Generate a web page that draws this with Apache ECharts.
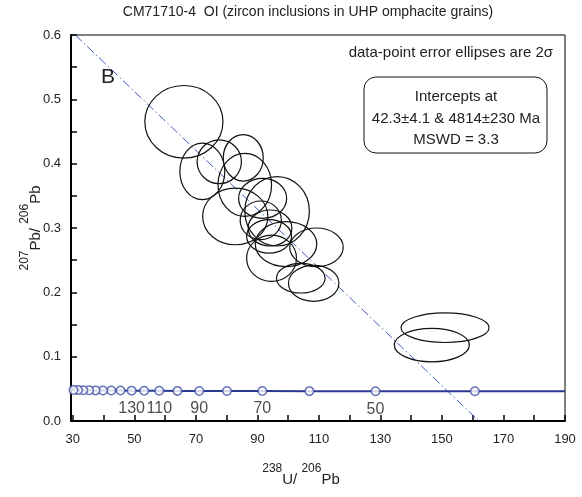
<!DOCTYPE html>
<html>
<head>
<meta charset="utf-8">
<script src="https://cdn.jsdelivr.net/npm/echarts@6/dist/echarts.min.js"></script>
<style>
  html, body { margin: 0; padding: 0; background: #fff; }
  #chart { width: 582px; height: 497px; }
</style>
</head>
<body>
<div id="chart"></div>
<script>
// Tera-Wasserburg plot: 238U/206Pb vs 207Pb/206Pb

// Error ellipses (centre and 2-sigma semi-axes in data units)
const ellX  = [66.1, 72.1, 77.6, 85.4, 85.9, 82.8, 91.7, 96.4, 91.1, 94.1, 93.8, 99.3, 94.6, 109.2, 104.1, 108.3, 151.0, 146.7];
const ellY  = [0.465, 0.388, 0.403, 0.409, 0.367, 0.318, 0.346, 0.326, 0.312, 0.300, 0.287, 0.275, 0.253, 0.270, 0.222, 0.214, 0.145, 0.118];
const ellRx = [12.7, 7.3, 7.2, 6.5, 8.7, 10.6, 7.8, 10.5, 6.7, 7.1, 7.3, 10.0, 8.1, 8.7, 7.9, 8.2, 14.3, 12.2];
const ellRy = [0.0565, 0.044, 0.034, 0.036, 0.049, 0.044, 0.031, 0.054, 0.030, 0.028, 0.026, 0.035, 0.036, 0.030, 0.023, 0.028, 0.023, 0.026];

// Concordia age markers (Ma) with their coordinates
const concAge = [40, 50, 60, 70, 80, 90, 100, 110, 120, 130, 140, 150, 160, 170, 180, 190, 200, 210];
const concX   = [160.7, 128.4, 106.9, 91.6, 80.1, 71.1, 64.0, 58.1, 53.2, 49.1, 45.5, 42.5, 39.8, 37.4, 35.3, 33.4, 31.7, 30.2];
const concY   = [0.0462, 0.0463, 0.0464, 0.0465, 0.0466, 0.0467, 0.0468, 0.0469, 0.0470, 0.0472, 0.0473, 0.0474, 0.0475, 0.0476, 0.0478, 0.0479, 0.0480, 0.0481];
const concLabelled = [50, 70, 90, 110, 130];

// Concordia curve trace (extends past the last markers to the frame)
const curveX = [28.8, 30.2, 31.7, 33.4, 35.3, 37.4, 39.8, 42.5, 45.5, 49.1, 53.2, 58.1, 64.0, 71.1, 80.1, 91.6, 106.9, 128.4, 160.7, 190];
const curveY = [0.0482, 0.0481, 0.0480, 0.0479, 0.0478, 0.0476, 0.0475, 0.0474, 0.0473, 0.0472, 0.0470, 0.0469, 0.0468, 0.0467, 0.0466, 0.0465, 0.0464, 0.0463, 0.0462, 0.0461];

// Discordia regression line end points
const discX = [30.8, 162.0];
const discY = [0.6, 0.0];

// Axis ticks
const xTickVals  = [30, 40, 50, 60, 70, 80, 90, 100, 110, 120, 130, 140, 150, 160, 170, 180, 190];
const xLabelVals = [30, 50, 70, 90, 110, 130, 150, 170, 190];
const yTickVals  = [0, 0.05, 0.1, 0.15, 0.2, 0.25, 0.3, 0.35, 0.4, 0.45, 0.5, 0.55, 0.6];

const FONT = '"Liberation Sans", Arial, sans-serif';
const INK = '#222';

const chart = echarts.init(document.getElementById('chart'), null, { renderer: 'canvas' });

const ellipseData = ellX.map((x, i) => [x, ellY[i], ellRx[i], ellRy[i]]);
const concData = concX.map((x, i) => ({
  value: [x, concY[i]],
  label: { show: concLabelled.indexOf(concAge[i]) >= 0, formatter: String(concAge[i]) }
}));

const supRich = {
  s: { fontSize: 12, lineHeight: 24, verticalAlign: 'top', fontFamily: FONT, color: INK },
  b: { fontSize: 15, lineHeight: 24, verticalAlign: 'bottom', fontFamily: FONT, color: INK }
};

chart.setOption({
  animation: false,
  backgroundColor: '#fff',
  textStyle: { fontFamily: FONT },
  grid: {
    left: 71, right: 17, top: 35, bottom: 76,
    show: true, borderColor: '#000', borderWidth: 1, backgroundColor: 'transparent'
  },
  xAxis: {
    type: 'value',
    min: 29.4, max: 190,
    splitLine: { show: false },
    axisLine: { onZero: false, lineStyle: { color: '#000', width: 2 } },
    axisTick: { inside: true, length: 6, lineStyle: { color: '#000', width: 1.5 }, customValues: xTickVals },
    axisLabel: { customValues: xLabelVals, color: INK, fontSize: 13, margin: 12, fontFamily: FONT },
    name: '{s|238}{b|U/ }{s|206}{b|Pb}',
    nameLocation: 'middle',
    nameGap: 42,
    nameMoveOverlap: false,
    nameTextStyle: { fontFamily: FONT, color: INK, padding: [0, 34, 0, 0], rich: supRich }
  },
  yAxis: {
    type: 'value',
    min: 0, max: 0.6, interval: 0.1,
    splitLine: { show: false },
    axisLine: { onZero: false, lineStyle: { color: '#000', width: 2 } },
    axisTick: { inside: true, length: 6, lineStyle: { color: '#000', width: 1.5 }, customValues: yTickVals },
    axisLabel: { color: INK, fontSize: 13, margin: 10, fontFamily: FONT, formatter: v => v.toFixed(1) },
    name: '{s|207}{b|Pb/ }{s|206}{b|Pb}',
    nameLocation: 'middle',
    nameGap: 28,
    nameRotate: 90,
    nameMoveOverlap: false,
    nameTextStyle: { fontFamily: FONT, color: INK, rich: supRich }
  },
  series: [
    {
      name: 'ellipses',
      type: 'custom',
      clip: true,
      z: 3,
      data: ellipseData,
      renderItem: function (params, api) {
        const c = api.coord([api.value(0), api.value(1)]);
        const s = api.size([api.value(2), api.value(3)]);
        return {
          type: 'ellipse',
          shape: { cx: c[0], cy: c[1], rx: s[0], ry: s[1] },
          style: { fill: 'none', stroke: '#111', lineWidth: 1.2 }
        };
      }
    },
    {
      name: 'discordia',
      type: 'line',
      clip: true,
      z: 2,
      symbol: 'none',
      data: discX.map((x, i) => [x, discY[i]]),
      lineStyle: { color: '#3d5bbf', width: 1, type: [9, 3, 1.5, 3] }
    },
    {
      name: 'concordia',
      type: 'line',
      clip: true,
      z: 4,
      symbol: 'none',
      data: curveX.map((x, i) => [x, curveY[i]]),
      lineStyle: { color: '#2b3990', width: 2 }
    },
    {
      name: 'ages',
      type: 'scatter',
      clip: true,
      z: 5,
      symbol: 'circle',
      symbolSize: 8.5,
      itemStyle: { color: '#fff', borderColor: '#4151a8', borderWidth: 1.5 },
      label: { position: 'bottom', distance: 5, color: INK, fontSize: 16, fontFamily: FONT },
      data: concData
    }
  ],
  graphic: [
    {
      type: 'text', x: 308, y: 12,
      style: { text: 'CM71710-4  OI (zircon inclusions in UHP omphacite grains)', fontSize: 14, fontFamily: FONT, fill: INK, align: 'center', verticalAlign: 'middle' }
    },
    {
      type: 'text', x: 553, y: 53,
      style: { text: 'data-point error ellipses are 2\u03c3', fontSize: 15, fontFamily: FONT, fill: INK, align: 'right', verticalAlign: 'middle' }
    },
    {
      type: 'rect', x: 364, y: 77,
      shape: { width: 183, height: 76, r: 12 },
      style: { fill: '#fff', stroke: '#111', lineWidth: 1 },
      z: 10
    },
    {
      type: 'text', x: 456, y: 97, z: 11,
      style: { text: 'Intercepts at', fontSize: 15, fontFamily: FONT, fill: INK, align: 'center', verticalAlign: 'middle' }
    },
    {
      type: 'text', x: 456, y: 119, z: 11,
      style: { text: '42.3\u00b14.1 & 4814\u00b1230 Ma', fontSize: 15, fontFamily: FONT, fill: INK, align: 'center', verticalAlign: 'middle' }
    },
    {
      type: 'text', x: 456, y: 140, z: 11,
      style: { text: 'MSWD = 3.3', fontSize: 15, fontFamily: FONT, fill: INK, align: 'center', verticalAlign: 'middle' }
    },
    {
      type: 'text', x: 108, y: 77, z: 11,
      style: { text: 'B', fontSize: 21, fontFamily: FONT, fill: INK, align: 'center', verticalAlign: 'middle' }
    }
  ]
});
</script>
</body>
</html>
